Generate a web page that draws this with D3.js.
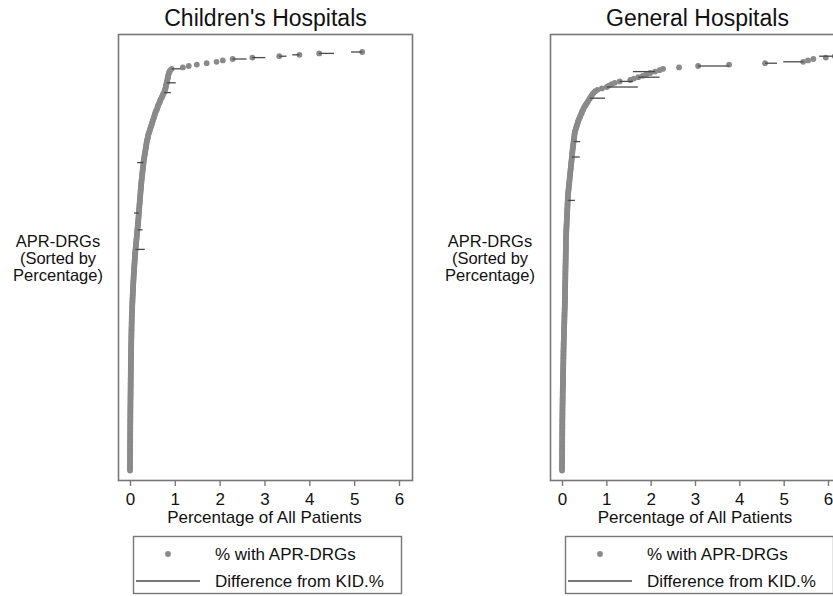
<!DOCTYPE html>
<html>
<head>
<meta charset="utf-8">
<script src="https://cdn.jsdelivr.net/npm/d3@7"></script>
<style>
  body { margin: 0; background: #fff; }
  svg { display: block; font-family: "Liberation Sans", Arial, sans-serif; }
</style>
</head>
<body>
<svg id="chart" width="833" height="596"></svg>
<script>
// % of patients per APR-DRG, sorted high to low (one value per DRG row)
const childPct = [
  5.18, 4.22, 3.78, 3.33, 2.73, 2.29, 2.07, 1.93, 1.71, 1.49, 1.31, 1.18, 0.93,
  0.90, 0.88, 0.87, 0.86, 0.85, 0.85, 0.84, 0.83, 0.83, 0.82,
  0.81, 0.80, 0.80, 0.79, 0.78, 0.77, 0.76,
  0.74, 0.73, 0.71, 0.70, 0.68, 0.67, 0.66, 0.64, 0.63, 0.62, 0.61, 0.60, 0.58, 0.57, 0.56,
  0.55, 0.54, 0.53, 0.52, 0.51, 0.50, 0.49, 0.48, 0.47, 0.46, 0.45, 0.44, 0.43, 0.42, 0.41, 0.40, 0.40, 0.39, 0.38,
  0.375, 0.37, 0.365, 0.36, 0.355, 0.35, 0.345, 0.34, 0.335, 0.33, 0.325, 0.32, 0.315, 0.31, 0.305, 0.30, 0.30, 0.295, 0.29,
  0.287, 0.284, 0.28, 0.277, 0.274, 0.27, 0.267, 0.264, 0.26, 0.257, 0.254, 0.25, 0.248, 0.245, 0.242, 0.24,
  0.238, 0.235, 0.233, 0.23, 0.228, 0.225, 0.222, 0.22, 0.218, 0.215, 0.212, 0.21,
  0.207, 0.205, 0.202, 0.2, 0.197, 0.195, 0.192, 0.19, 0.188, 0.185, 0.183, 0.18,
  0.177, 0.174, 0.171, 0.168, 0.165, 0.162, 0.159, 0.156, 0.153, 0.15, 0.147, 0.144,
  0.141, 0.138, 0.135, 0.132, 0.129, 0.126, 0.123, 0.12, 0.118, 0.115, 0.113, 0.11,
  0.108, 0.106, 0.104, 0.102, 0.1, 0.098, 0.096, 0.094, 0.092, 0.09,
  0.088, 0.086, 0.084, 0.082, 0.08, 0.079, 0.077, 0.075, 0.074, 0.072,
  0.07, 0.069, 0.067, 0.066, 0.064, 0.063, 0.061, 0.06, 0.058, 0.057,
  0.056, 0.054, 0.053, 0.052, 0.05, 0.049, 0.048, 0.047, 0.046, 0.045,
  0.043, 0.042, 0.04,
  0.039, 0.039, 0.038, 0.037, 0.037, 0.036, 0.035, 0.035, 0.034, 0.033,
  0.033, 0.032, 0.031, 0.031, 0.03, 0.03, 0.029, 0.028, 0.028, 0.027,
  0.027, 0.026, 0.026, 0.025, 0.025, 0.024, 0.024, 0.023, 0.023, 0.022,
  0.022, 0.021, 0.021, 0.02, 0.02, 0.019, 0.019, 0.019, 0.018, 0.018,
  0.017, 0.017, 0.017, 0.016, 0.016, 0.015, 0.015,
  0.015, 0.014, 0.014, 0.014, 0.013, 0.013, 0.013, 0.012, 0.012, 0.012,
  0.011, 0.011, 0.011, 0.01, 0.01, 0.01, 0.01, 0.009, 0.009, 0.009,
  0.009, 0.008, 0.008, 0.008, 0.008, 0.007, 0.007, 0.007, 0.007, 0.006,
  0.006, 0.006, 0.006, 0.005, 0.005, 0.005, 0.005, 0.005, 0.004, 0.004,
  0.004, 0.004, 0.004, 0.003, 0.003, 0.003, 0.003, 0.003, 0.003, 0.002,
  0.002, 0.002, 0.002, 0.002, 0.002, 0.001, 0.001, 0.001, 0.001, 0.001,
  0.001, 0.001, 0.001
];

const generalPct = [
  6.6, 6.45, 6.3, 6.15, 5.95, 5.67, 5.55, 5.44, 4.58, 3.77, 3.07, 2.64, 2.28,
  2.2, 2.1, 1.99, 1.9, 1.82, 1.72, 1.62, 1.54, 1.3, 1.19, 1.12, 1.06, 1.01, 0.9, 0.8,
  0.75, 0.72, 0.69, 0.67, 0.65, 0.63, 0.61, 0.59, 0.57, 0.55, 0.53, 0.51, 0.49, 0.48, 0.46, 0.45,
  0.44, 0.42, 0.41, 0.4, 0.38, 0.37, 0.36, 0.35, 0.34, 0.33, 0.32, 0.31, 0.3, 0.29,
  0.286, 0.282, 0.278, 0.274, 0.27, 0.266, 0.262, 0.258, 0.254, 0.25, 0.246, 0.242, 0.238, 0.235, 0.232, 0.229, 0.226,
  0.223, 0.220, 0.216, 0.213, 0.210, 0.207, 0.203, 0.200, 0.197, 0.194,
  0.190, 0.187, 0.184, 0.181, 0.177, 0.174, 0.171, 0.168, 0.164, 0.161,
  0.158, 0.155, 0.151, 0.148, 0.145, 0.142, 0.138, 0.135,
  0.134, 0.132, 0.131, 0.129, 0.128, 0.126, 0.125, 0.123, 0.122, 0.12,
  0.119, 0.117, 0.116, 0.114, 0.113, 0.111, 0.11, 0.108, 0.107, 0.105,
  0.104, 0.102, 0.101, 0.099, 0.098, 0.096, 0.095, 0.094, 0.093, 0.092,
  0.09,
  0.09, 0.089, 0.089, 0.088, 0.088, 0.087, 0.087, 0.086, 0.086, 0.085,
  0.085, 0.084, 0.084, 0.083, 0.082, 0.082, 0.081, 0.081, 0.08, 0.08,
  0.079, 0.079, 0.078, 0.077, 0.077, 0.076, 0.076, 0.075, 0.075, 0.074,
  0.073, 0.073, 0.072, 0.072, 0.071, 0.071, 0.07, 0.07, 0.069, 0.069,
  0.068, 0.068,
  0.067, 0.066, 0.065, 0.065, 0.064, 0.063, 0.062, 0.061, 0.06, 0.059,
  0.058, 0.057, 0.056, 0.055, 0.055, 0.054, 0.053, 0.052, 0.051, 0.05,
  0.049, 0.048, 0.047, 0.046, 0.045, 0.045, 0.044, 0.043, 0.042, 0.041,
  0.04, 0.039, 0.038, 0.037, 0.037, 0.036, 0.035, 0.034, 0.034, 0.033,
  0.033, 0.032, 0.032, 0.031, 0.031, 0.03, 0.03,
  0.029, 0.029, 0.028, 0.027, 0.027, 0.026, 0.025, 0.025, 0.024, 0.023,
  0.023, 0.022, 0.021, 0.021, 0.02, 0.02, 0.019, 0.019, 0.018, 0.017,
  0.017, 0.016, 0.016, 0.015, 0.015, 0.014, 0.014, 0.013, 0.013, 0.012,
  0.012, 0.011, 0.011, 0.011, 0.01, 0.01, 0.01, 0.009, 0.009, 0.009,
  0.008, 0.008, 0.008, 0.008, 0.007, 0.007, 0.007, 0.007,
  0.007, 0.006, 0.006, 0.006, 0.006, 0.005, 0.005, 0.005, 0.005, 0.005,
  0.004, 0.004, 0.004, 0.004, 0.004, 0.003, 0.003, 0.003, 0.003, 0.003,
  0.002, 0.002, 0.002, 0.002, 0.002, 0.002, 0.001, 0.001, 0.001
];

// rows where the KID % differs visibly (row index, KID %)
const childKidRow = [0, 1, 2, 3, 4, 5, 12, 22, 29, 79, 115, 127, 141];
const childKidPct = [4.93, 4.55, 3.62, 3.49, 3.02, 2.6, 1.13, 1.02, 0.91, 0.16, 0.09, 0.28, 0.33];
const generalKidRow = [3, 7, 8, 10, 14, 18, 21, 25, 33, 64, 75, 106];
const generalKidPct = [5.8, 4.99, 4.85, 3.77, 1.6, 2.2, 1.6, 1.71, 0.97, 0.41, 0.4, 0.29];

const xTicks = [0, 1, 2, 3, 4, 5, 6];
const titles = ["Children's Hospitals", "General Hospitals"];
const yLabel = ["APR-DRGs", "(Sorted by", "Percentage)"];
const xLabel = "Percentage of All Patients";
const legendLabels = ["% with APR-DRGs", "Difference from KID.%"];

const svg = d3.select("#chart");
const dotColor = "#8a8a8a";
const lineColor = "#4a4a4a";
const frameColor = "#777";
const textColor = "#111";

function drawPanel(dx, title, pct, kidRow, kidPct, x0, x6) {
  const g = svg.append("g").attr("transform", "translate(" + dx + ",0)");

  const x = d3.scaleLinear().domain([0, 6]).range([x0, x6]);
  const y = d3.scaleLinear().domain([0, 299]).range([52, 470.6]);

  // frame
  g.append("rect")
    .attr("x", 118.5).attr("y", 34.5)
    .attr("width", 294).attr("height", 446)
    .attr("fill", "none")
    .attr("stroke", frameColor)
    .attr("stroke-width", 1.6);

  // title
  g.append("text")
    .attr("x", 265.5).attr("y", 26)
    .attr("text-anchor", "middle")
    .attr("font-size", "23px")
    .attr("fill", textColor)
    .text(title);

  // y label
  const yl = g.append("text")
    .attr("text-anchor", "middle")
    .attr("font-size", "16.5px")
    .attr("fill", textColor);
  yLabel.forEach(function (t, i) {
    yl.append("tspan").attr("x", 58).attr("y", 246.5 + i * 17).text(t);
  });

  // dots
  g.append("g")
    .selectAll("circle")
    .data(pct)
    .join("circle")
    .attr("cx", (d) => x(d))
    .attr("cy", (d, i) => y(i))
    .attr("r", 2.9)
    .attr("fill", dotColor);

  // difference lines
  g.append("g")
    .selectAll("line")
    .data(kidRow)
    .join("line")
    .attr("x1", (d) => x(pct[d]))
    .attr("x2", (d, i) => x(kidPct[i]))
    .attr("y1", (d) => y(d))
    .attr("y2", (d) => y(d))
    .attr("stroke", lineColor)
    .attr("stroke-width", 1.3);

  // x axis
  const axis = g.append("g")
    .attr("transform", "translate(0,480)")
    .call(d3.axisBottom(x).tickValues(xTicks).tickFormat(d3.format("d"))
      .tickSize(6).tickSizeOuter(0).tickPadding(7));
  axis.select(".domain").remove();
  axis.selectAll(".tick line").attr("stroke", frameColor).attr("stroke-width", 1.4);
  axis.selectAll(".tick text")
    .attr("font-size", "17px")
    .attr("font-family", "Liberation Sans, Arial, sans-serif")
    .attr("fill", textColor);

  g.append("text")
    .attr("x", (x0 + x6) / 2).attr("y", 523)
    .attr("text-anchor", "middle")
    .attr("font-size", "17px")
    .attr("fill", textColor)
    .text(xLabel);

  // legend
  g.append("rect")
    .attr("x", 133.5).attr("y", 536.5)
    .attr("width", 268).attr("height", 57)
    .attr("fill", "none")
    .attr("stroke", frameColor)
    .attr("stroke-width", 1.4);
  g.append("circle")
    .attr("cx", 168).attr("cy", 554)
    .attr("r", 2.9)
    .attr("fill", dotColor);
  g.append("line")
    .attr("x1", 136).attr("x2", 200)
    .attr("y1", 581).attr("y2", 581)
    .attr("stroke", lineColor)
    .attr("stroke-width", 1.3);
  g.selectAll(".leg")
    .data(legendLabels)
    .join("text")
    .attr("class", "leg")
    .attr("x", 215)
    .attr("y", (d, i) => 560 + i * 27)
    .attr("font-size", "17px")
    .attr("fill", textColor)
    .text((d) => d);
}

drawPanel(0, titles[0], childPct, childKidRow, childKidPct, 130, 399);
drawPanel(432, titles[1], generalPct, generalKidRow, generalKidPct, 130, 396);
</script>
</body>
</html>
